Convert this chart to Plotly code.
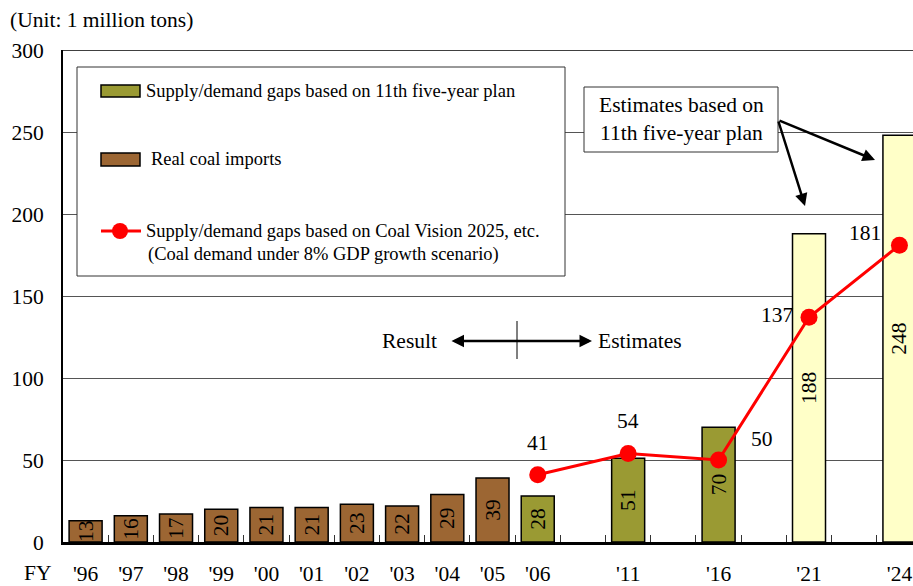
import plotly.graph_objects as go

# ---------------- data ----------------
fiscal_years = ["'96", "'97", "'98", "'99", "'00", "'01", "'02", "'03", "'04", "'05",
                "'06", "'11", "'16", "'21", "'24"]
slot_index = [0, 1, 2, 3, 4, 5, 6, 7, 8, 9, 10, 12, 14, 16, 18]

import_years = ["'96", "'97", "'98", "'99", "'00", "'01", "'02", "'03", "'04", "'05"]
import_values = [13, 16, 17, 20, 21, 21, 23, 22, 29, 39]

plan_years = ["'06", "'11", "'16"]
plan_values = [28, 51, 70]

estimate_years = ["'21", "'24"]
estimate_values = [188, 248]

vision_years = ["'06", "'11", "'16", "'21", "'24"]
vision_values = [41, 54, 50, 137, 181]

y_ticks = [0, 50, 100, 150, 200, 250, 300]

# ---------------- layout helpers ----------------
W, H = 913, 586
L, R, T, B = 63, 0, 50, 44
PW, PH = W - L - R, H - T - B
pos = dict(zip(fiscal_years, slot_index))


def px(x):
    return (x - L) / PW


def py(y):
    return (H - B - y) / PH


FONT = "Liberation Serif, Times New Roman, serif"
BROWN = "#9C6633"
OLIVE = "#9A9A33"
PALE = "#FFFFC8"
RED = "#FF0000"
FS = 21.5

fig = go.Figure()

bar_common = dict(
    width=0.73,
    textposition="inside",
    insidetextanchor="middle",
    textangle=-90,
    constraintext="none",
    textfont=dict(family=FONT, size=FS, color="black"),
    marker_line=dict(color="black", width=1.5),
    showlegend=False,
    cliponaxis=True,
)

fig.add_trace(go.Bar(x=[pos[y] for y in import_years], y=import_values,
                     text=[str(v) for v in import_values],
                     marker_color=BROWN, name="Real coal imports", **bar_common))
fig.add_trace(go.Bar(x=[pos[y] for y in plan_years], y=plan_values,
                     text=[str(v) for v in plan_values],
                     marker_color=OLIVE,
                     name="Supply/demand gaps based on 11th five-year plan", **bar_common))
fig.add_trace(go.Bar(x=[pos[y] for y in estimate_years], y=estimate_values,
                     text=[str(v) for v in estimate_values],
                     marker_color=PALE, name="Estimates based on 11th five-year plan",
                     **bar_common))

fig.add_trace(go.Scatter(
    x=[pos[y] for y in vision_years], y=vision_values,
    mode="lines+markers",
    line=dict(color=RED, width=3),
    marker=dict(color=RED, size=17),
    showlegend=False,
    cliponaxis=False,
    name="Supply/demand gaps based on Coal Vision 2025, etc.",
))

annotations = []
shapes = []

# line value labels (offsets in pixels)
label_offsets = [(0, 32), (0, 32), (43, 21), (-32, 2), (-34, 12)]
for yr, v, (dx, dy) in zip(vision_years, vision_values, label_offsets):
    annotations.append(dict(x=pos[yr], y=v, xref="x", yref="y", text=str(v),
                            showarrow=False, xshift=dx, yshift=dy,
                            font=dict(family=FONT, size=FS, color="black")))

# top border line
shapes.append(dict(type="line", xref="paper", yref="y", x0=0, x1=1, y0=300, y1=300,
                   line=dict(color="black", width=1.5), layer="above"))

# ---------------- manual legend ----------------
shapes.append(dict(type="rect", xref="paper", yref="paper",
                   x0=px(77), x1=px(565), y0=py(276), y1=py(67),
                   fillcolor="white", line=dict(color="#333333", width=1), layer="above"))
shapes.append(dict(type="rect", xref="paper", yref="paper",
                   x0=px(101), x1=px(140), y0=py(97), y1=py(85),
                   fillcolor=OLIVE, line=dict(color="black", width=1.5), layer="above"))
shapes.append(dict(type="rect", xref="paper", yref="paper",
                   x0=px(101), x1=px(140), y0=py(166), y1=py(153),
                   fillcolor=BROWN, line=dict(color="black", width=1.5), layer="above"))
shapes.append(dict(type="line", xref="paper", yref="paper",
                   x0=px(101), x1=px(141), y0=py(231), y1=py(231),
                   line=dict(color=RED, width=3), layer="above"))
shapes.append(dict(type="circle", xref="paper", yref="paper",
                   x0=px(112), x1=px(128), y0=py(239), y1=py(223),
                   fillcolor=RED, line=dict(color=RED, width=0), layer="above"))

LEG_FONT = dict(family=FONT, size=18.5, color="black")
annotations.append(dict(x=px(144), y=py(91), xref="paper", yref="paper", showarrow=False,
                        xanchor="left", yanchor="middle",
                        text="Supply/demand gaps based on 11th five-year plan", font=LEG_FONT))
annotations.append(dict(x=px(149), y=py(159), xref="paper", yref="paper", showarrow=False,
                        xanchor="left", yanchor="middle",
                        text="Real coal imports", font=LEG_FONT))
annotations.append(dict(x=px(144), y=py(231), xref="paper", yref="paper", showarrow=False,
                        xanchor="left", yanchor="middle",
                        text="Supply/demand gaps based on Coal Vision 2025, etc.", font=LEG_FONT))
annotations.append(dict(x=px(146), y=py(255), xref="paper", yref="paper", showarrow=False,
                        xanchor="left", yanchor="middle",
                        text="(Coal demand under 8% GDP growth scenario)", font=LEG_FONT))

# ---------------- Result / Estimates ----------------
TXT = dict(family=FONT, size=FS, color="black")
annotations.append(dict(x=px(592), y=py(341), xref="paper", yref="paper",
                        ax=450 - 592, ay=0, text="", showarrow=True,
                        arrowhead=2, startarrowhead=2, arrowside="end+start",
                        arrowsize=1, arrowwidth=2.5, arrowcolor="black"))
shapes.append(dict(type="line", xref="paper", yref="paper",
                   x0=px(517), x1=px(517), y0=py(321), y1=py(359),
                   line=dict(color="black", width=1), layer="above"))
annotations.append(dict(x=px(439), y=py(341), xref="paper", yref="paper", showarrow=False,
                        xanchor="right", yanchor="middle", text="Result", font=TXT))
annotations.append(dict(x=px(596), y=py(341), xref="paper", yref="paper", showarrow=False,
                        xanchor="left", yanchor="middle", text="Estimates", font=TXT))

# ---------------- Estimates box ----------------
shapes.append(dict(type="rect", xref="paper", yref="paper",
                   x0=px(584), x1=px(778), y0=py(152), y1=py(87),
                   fillcolor="white", line=dict(color="#333333", width=1), layer="above"))
annotations.append(dict(x=px(681), y=py(119.5), xref="paper", yref="paper", showarrow=False,
                        xanchor="center", yanchor="middle", align="center",
                        text="Estimates based on<br>11th five-year plan", font=TXT))
for hx, hy in [(805, 206), (875, 160)]:
    annotations.append(dict(x=px(hx), y=py(hy), xref="paper", yref="paper",
                            ax=778 - hx, ay=120 - hy, text="", showarrow=True,
                            arrowhead=2, arrowsize=1, arrowwidth=2.5, arrowcolor="black"))

# ---------------- titles ----------------
annotations.append(dict(x=px(8), y=py(20), xref="paper", yref="paper", showarrow=False,
                        xanchor="left", yanchor="middle",
                        text="(Unit: 1 million tons)", font=TXT))
annotations.append(dict(x=px(37), y=py(573), xref="paper", yref="paper", showarrow=False,
                        xanchor="center", yanchor="middle", text="FY", font=TXT))

fig.update_layout(
    width=W, height=H,
    margin=dict(l=L, r=R, t=T, b=B, pad=0, autoexpand=False),
    paper_bgcolor="white", plot_bgcolor="white",
    barmode="overlay",
    showlegend=False,
    shapes=shapes,
    annotations=annotations,
    font=dict(family=FONT, size=FS, color="black"),
)

fig.update_xaxes(
    range=[-0.5, 18.3],
    automargin=False,
    tickmode="array",
    tickvals=[pos[y] for y in fiscal_years],
    ticktext=fiscal_years,
    ticks="",
    tickfont=dict(family=FONT, size=FS, color="black"),
    ticklabelstandoff=10,
    showgrid=False,
    zeroline=False,
    showline=True, linecolor="black", linewidth=2.5,
    minor=dict(tickvals=[i + 0.5 for i in range(18)], ticks="inside",
               ticklen=7, tickwidth=1, tickcolor="#333333", showgrid=False),
)
fig.update_yaxes(
    range=[0, 300],
    automargin=False,
    tickmode="array",
    tickvals=y_ticks,
    ticks="",
    tickfont=dict(family=FONT, size=FS, color="black"),
    ticklabelstandoff=13,
    showgrid=True, gridcolor="#555555", gridwidth=1,
    zeroline=False,
    showline=True, linecolor="black", linewidth=2,
)

fig.write_html(
    "out.html",
    config={"displayModeBar": False},
    post_script="document.body.style.margin='0';document.body.style.overflow='hidden';",
)
